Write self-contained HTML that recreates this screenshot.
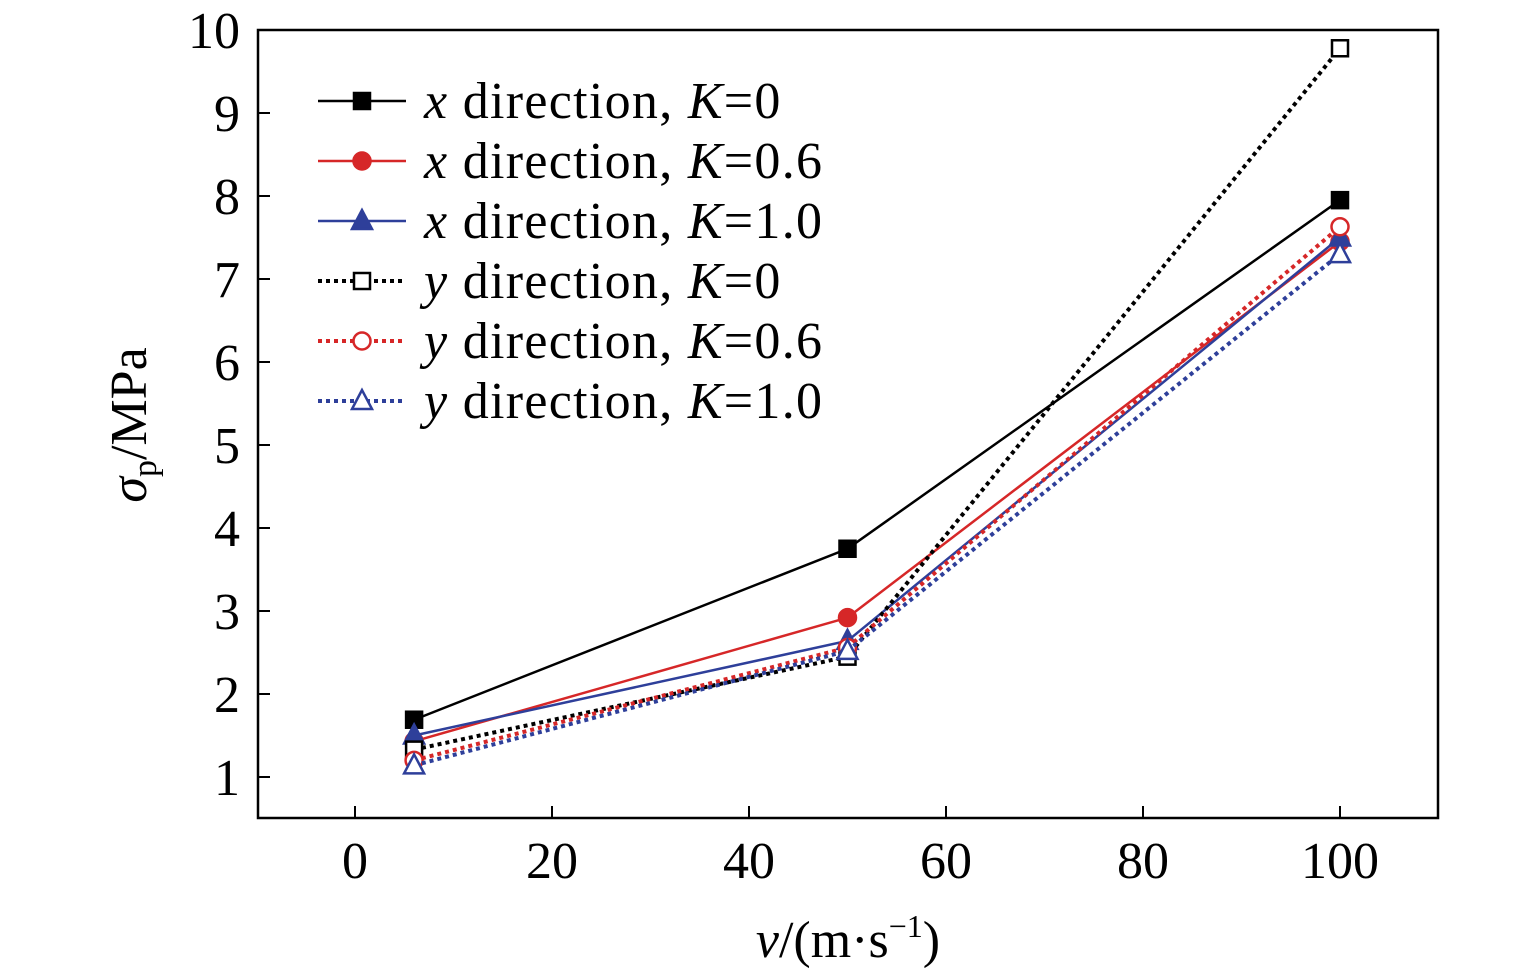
<!DOCTYPE html>
<html><head><meta charset="utf-8"><style>
html,body{margin:0;padding:0;background:#fff;}
svg{display:block;font-family:"Liberation Serif",serif;}
</style></head><body>
<svg id="chart" width="1535" height="974" viewBox="0 0 1535 974"></svg>
<script>
const xValues=[6,50,100];
const seriesNames=["x direction, K=0","x direction, K=0.6","x direction, K=1.0","y direction, K=0","y direction, K=0.6","y direction, K=1.0"];
const xK0=[1.69,3.75,7.95];
const xK06=[1.43,2.92,7.45];
const xK10=[1.5,2.64,7.5];
const yK0=[1.33,2.45,9.78];
const yK06=[1.2,2.56,7.63];
const yK10=[1.14,2.52,7.3];
const xTicks=[0,20,40,60,80,100];
const yTicks=[1,2,3,4,5,6,7,8,9,10];

const NS="http://www.w3.org/2000/svg";
const svg=document.getElementById('chart');
const L=258,R=1438,T=30,B=818;
const xs=v=>355+(v-0)*(1340-355)/100;
const ys=v=>777-(v-1)*(777-30)/9;
function mk(tag,attrs,parent){const e=document.createElementNS(NS,tag);for(const k in attrs)e.setAttribute(k,attrs[k]);(parent||svg).appendChild(e);return e;}

const frame=mk('rect',{x:L,y:T,width:R-L,height:B-T,fill:'none',stroke:'#000','stroke-width':2.5});



xTicks.forEach(t=>{
  const l=mk('line',{x1:xs(t),x2:xs(t),y1:B,y2:B-12,stroke:'#000','stroke-width':2});
  
  
  const tx=mk('text',{x:xs(t),y:878,'font-size':52,'text-anchor':'middle'});
  tx.textContent=t;
  
  
});
yTicks.forEach(t=>{
  const l=mk('line',{x1:L,x2:L+12,y1:ys(t),y2:ys(t),stroke:'#000','stroke-width':2});
  
  
  const tx=mk('text',{x:240,y:ys(t)+18,'font-size':52,'text-anchor':'end'});
  tx.textContent=t;
  
  
});

const xl=mk('text',{x:848,y:957,'font-size':52,'text-anchor':'middle'});
xl.innerHTML='<tspan font-style="italic">v</tspan>/(m·s<tspan font-size="32" dy="-20">−1</tspan><tspan dy="20">)</tspan>';


const yl=mk('text',{x:0,y:0,'font-size':52,'text-anchor':'middle',transform:'translate(146,425) rotate(-90)'});
yl.innerHTML='<tspan font-style="italic">σ</tspan><tspan font-size="34" dy="10">p</tspan><tspan dy="-10">/MPa</tspan>';



const series=[
 {d:xK0,c:'#000',dash:false,m:'square',fill:true},
 {d:xK06,c:'#d62728',dash:false,m:'circle',fill:true},
 {d:xK10,c:'#2e3f9a',dash:false,m:'tri',fill:true},
 {d:yK0,c:'#000',dash:true,m:'square',fill:false},
 {d:yK06,c:'#d62728',dash:true,m:'circle',fill:false},
 {d:yK10,c:'#2e3f9a',dash:true,m:'tri',fill:false}
];
function marker(type,x,y,c,fill,g){
  const a={fill:fill?c:'#fff',stroke:c,'stroke-width':2.5};
  let e;
  if(type==='square'){e=mk('rect',Object.assign({x:x-8,y:y-8,width:16,height:16},a),g);}
  else if(type==='circle'){e=mk('circle',Object.assign({cx:x,cy:y,r:8.5},a),g);}
  else{e=mk('polygon',Object.assign({points:`${x},${y-11} ${x-10},${y+8} ${x+10},${y+8}`},a),g);}
  return e;
}
series.forEach((s,i)=>{
  const g=mk('g',{});
  
  
  const pts=s.d.map((v,j)=>xs(xValues[j])+','+ys(v)).join(' ');
  const pl=mk('polyline',{points:pts,fill:'none',stroke:s.c,'stroke-width':s.dash?4:2.5,'stroke-dasharray':s.dash?'4 4':'none'},g);
  
  
  s.d.forEach((v,j)=>{
    const m=marker(s.m,xs(xValues[j]),ys(v),s.c,s.fill,g);
    
    
  });
  const ly=101+i*60;
  const lg=mk('g',{});
  
  
  mk('line',{x1:318,x2:406,y1:ly,y2:ly,stroke:s.c,'stroke-width':s.dash?4:2.5,'stroke-dasharray':s.dash?'4 4':'none'},lg);
  marker(s.m,362,ly,s.c,s.fill,lg);
  const t=mk('text',{x:424,y:ly+17,'font-size':52,'letter-spacing':1.3},lg);
  const parts=seriesNames[i].split(', K=');
  t.innerHTML='<tspan font-style="italic">'+parts[0][0]+'</tspan>'+parts[0].slice(1)+', <tspan font-style="italic">K</tspan>='+parts[1];
});
</script>
</body></html>
